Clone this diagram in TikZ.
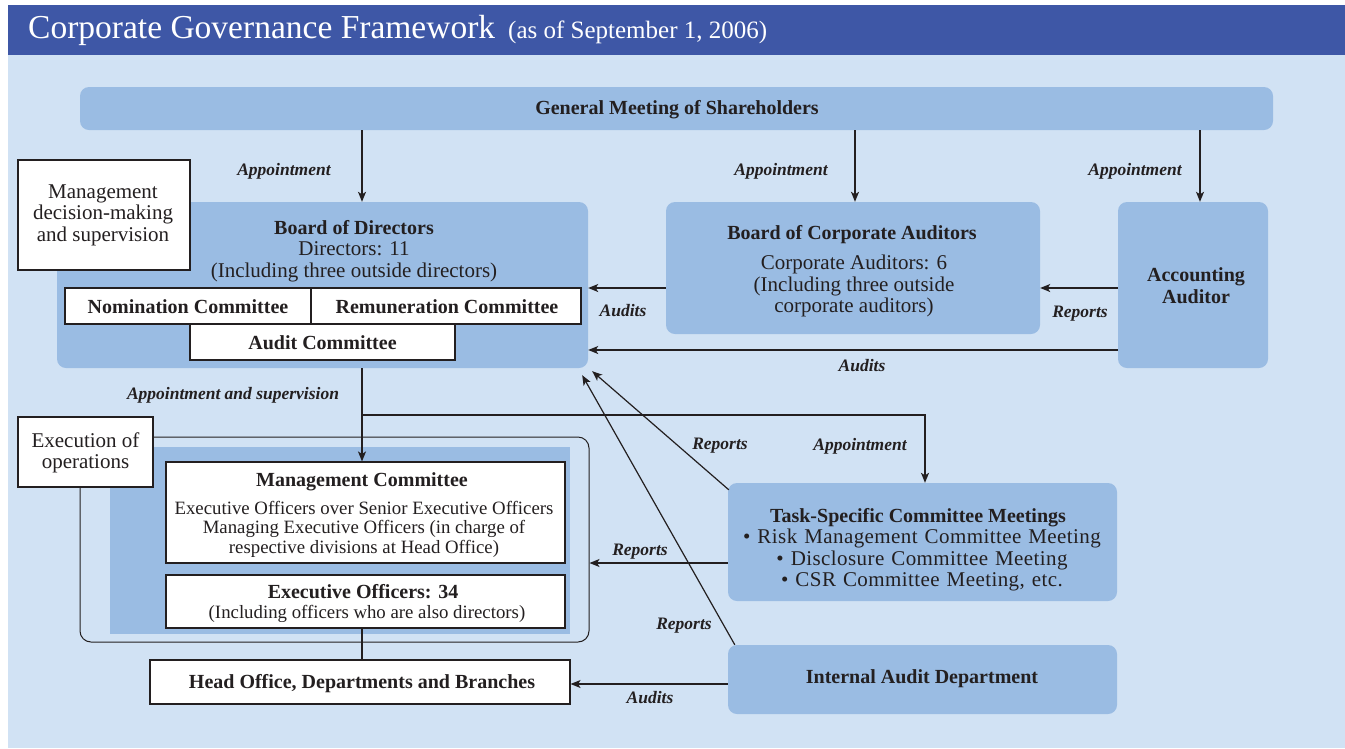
\documentclass[tikz,border=0pt]{standalone}
\usepackage{fontspec}
\setmainfont{Liberation Serif}
\usetikzlibrary{arrows.meta}

\definecolor{barblue}{HTML}{3E57A6}
\definecolor{paleblue}{HTML}{D1E2F4}
\definecolor{midblue}{HTML}{9ABCE3}
\definecolor{ink}{HTML}{231F20}

\newcommand{\titlefont}{\fontsize{33.5}{36}\selectfont}
\newcommand{\subtitlefont}{\fontsize{25}{28}\selectfont}
\newcommand{\headfont}{\fontsize{20}{22}\selectfont\bfseries}
\newcommand{\bodyfont}{\fontsize{21}{21.5}\selectfont}
\newcommand{\smallfont}{\fontsize{18.8}{19.5}\selectfont}
\newcommand{\lblfont}{\fontsize{17.5}{19}\selectfont\bfseries\itshape}

\begin{document}
\begin{tikzpicture}[x=1pt,y=-1pt,
  bluebox/.style={fill=midblue, draw=none, rounded corners=9pt, inner sep=0pt},
  whitebox/.style={fill=white, draw=ink, line width=1.1pt, inner sep=0pt},
  txt/.style={text=ink, inner sep=0pt, align=center},
  lbl/.style={text=ink, inner sep=0pt, font=\lblfont},
  arr/.style={draw=ink, line width=1.2pt, -{Stealth[length=10pt,width=8pt,inset=2.5pt]}},
  link/.style={draw=ink, line width=1.2pt}]

\useasboundingbox (0,0) rectangle (1345,748);
\fill[white] (0,0) rectangle (1345,748);
\fill[barblue] (8,5) rectangle (1345,55);
\fill[paleblue] (8,55) rectangle (1345,748);

% heading
\node[anchor=base west, inner sep=0pt, text=white, font=\titlefont] (title) at (28,38) {Corporate Governance Framework};
\node[anchor=base west, inner sep=0pt, text=white, font=\subtitlefont] (date) at (508,38) {(as of September 1, 2006)};

% shareholders
\node[bluebox, minimum width=1193pt, minimum height=43pt] (gm) at (676.5,108.5) {};
\node[txt, font=\headfont] (gmtxt) at (677,110) {General Meeting of Shareholders};

% board of directors
\node[bluebox, minimum width=531pt, minimum height=166pt] (bod) at (322.5,285) {};
\node[txt, font=\bodyfont] (bodtxt) at (354,251) {{\headfont Board of Directors}\\Directors: 11\\(Including three outside directors)};
\node[whitebox, minimum width=246pt, minimum height=36pt] (nom) at (188,306) {};
\node[txt, font=\headfont] (nomtxt) at (188,307) {Nomination Committee};
\node[whitebox, minimum width=270pt, minimum height=36pt] (rem) at (446,306) {};
\node[txt, font=\headfont] (remtxt) at (447,307) {Remuneration Committee};
\node[whitebox, minimum width=265pt, minimum height=36pt] (aud) at (322.5,342) {};
\node[txt, font=\headfont] (audtxt) at (322.5,343) {Audit Committee};

\node[whitebox, minimum width=172pt, minimum height=110pt] (mds) at (104,215) {};
\node[txt, font=\bodyfont] (mdstxt) at (103,215) {Management\\decision-making\\and supervision};

% board of corporate auditors
\node[bluebox, minimum width=374pt, minimum height=132pt] (bca) at (853,268) {};
\node[txt, font=\headfont] (bcatitle) at (852,235) {Board of Corporate Auditors};
\node[txt, font=\bodyfont] (bcatxt) at (854,286) {Corporate Auditors: 6\\(Including three outside\\corporate auditors)};

% accounting auditor
\node[bluebox, minimum width=150pt, minimum height=166pt] (aa) at (1193,285) {};
\node[txt, font=\headfont] (aatxt) at (1196,286) {Accounting\\Auditor};

% execution of operations
\node[draw=ink, line width=1pt, rounded corners=11pt, minimum width=509pt, minimum height=205pt, inner sep=0pt] (execframe) at (334.5,539.5) {};
\fill[midblue] (110,447) rectangle (570,634);
\node[whitebox, minimum width=135pt, minimum height=70pt] (exo) at (85.5,452) {};
\node[txt, font=\bodyfont] (exotxt) at (85.5,453) {Execution of\\operations};

\node[whitebox, minimum width=399pt, minimum height=101pt] (mc) at (365.5,512.5) {};
\node[txt, font=\headfont] (mctitle) at (362,482) {Management Committee};
\node[txt, font=\smallfont] (mctxt) at (364,529) {Executive Officers over Senior Executive Officers\\Managing Executive Officers (in charge of\\respective divisions at Head Office)};

\node[whitebox, minimum width=399pt, minimum height=53pt] (eo) at (365.5,601.5) {};
\node[txt, font=\headfont] (eotitle) at (363,592) {Executive Officers: 34};
\node[txt, font=\smallfont] (eotxt) at (367,614) {(Including officers who are also directors)};

\node[whitebox, minimum width=420pt, minimum height=44pt] (ho) at (360,682) {};
\node[txt, font=\headfont] (hotxt) at (362,684) {Head Office, Departments and Branches};

% task-specific committees and internal audit
\node[bluebox, minimum width=389pt, minimum height=118pt] (ts) at (922.5,542) {};
\node[txt, font=\headfont] (tstitle) at (918,518) {Task-Specific Committee Meetings};
\node[txt, font=\bodyfont, text width=360pt] (tstxt) at (922,560) {\addfontfeatures{LetterSpace=2}• Risk Management Committee Meeting\\• Disclosure Committee Meeting\\• CSR Committee Meeting, etc.};

\node[bluebox, minimum width=389pt, minimum height=69pt] (iad) at (922.5,679.5) {};
\node[txt, font=\headfont] (iadtxt) at (922,679) {Internal Audit Department};

% connectors
\draw[arr] (gm.south -| 362,0) -- (bod.north -| 362,0);
\draw[arr] (gm.south -| 855,0) -- (bca.north -| 855,0);
\draw[arr] (gm.south -| 1200,0) -- (aa.north -| 1200,0);
\draw[arr] (bca.west |- 0,288) -- (bod.east |- 0,288);
\draw[arr] (aa.west |- 0,288) -- (bca.east |- 0,288);
\draw[arr] (aa.west |- 0,350) -- (bod.east |- 0,350);
\draw[arr] (bod.south -| 362,0) -- (mc.north -| 362,0);
\coordinate (split) at (362,415);
\draw[arr] (split) -| (ts.north -| 925,0);
\draw[arr] (ts.west |- 0,563) -- (execframe.east |- 0,563);
\draw[arr] (iad.west |- 0,684) -- (ho.east |- 0,684);
\draw[arr] ([shift={(1,7)}]ts.north west) -- ([shift={(4,3)}]bod.south east);
\draw[arr] ([shift={(7,0)}]iad.north west) -- ([shift={(-6,7)}]bod.south east);
\draw[link] (eo.south -| 362,0) -- (ho.north -| 362,0);

% connector labels
\node[lbl] (l1) at (284,171) {Appointment};
\node[lbl] (l2) at (781,171) {Appointment};
\node[lbl] (l3) at (1135,171) {Appointment};
\node[lbl] (l4) at (623,311) {Audits};
\node[lbl] (l5) at (1080,314) {Reports};
\node[lbl] (l6) at (862,366) {Audits};
\node[lbl] (l7) at (233,395) {Appointment and supervision};
\node[lbl] (l8) at (720,446) {Reports};
\node[lbl] (l9) at (860,446) {Appointment};
\node[lbl] (l10) at (640,552) {Reports};
\node[lbl] (l11) at (684,626) {Reports};
\node[lbl] (l12) at (650,698) {Audits};
\end{tikzpicture}
\end{document}
